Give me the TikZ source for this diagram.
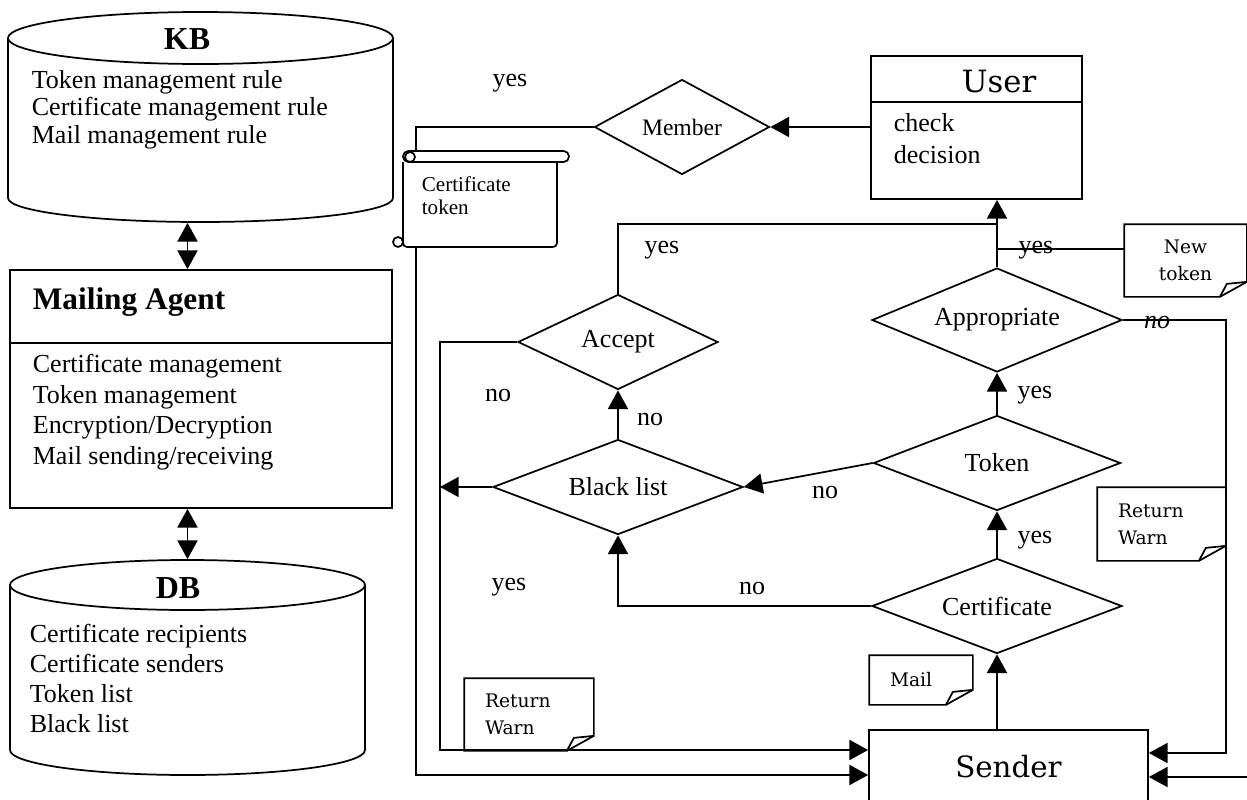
\documentclass[tikz,border=0pt]{standalone}
\usepackage{fontspec}
\setmainfont{Liberation Serif}
\newfontfamily\notefont{DejaVu Serif}
\usetikzlibrary{shapes.geometric,arrows.meta,calc}

\begin{document}
\begin{tikzpicture}[x=0.75pt,y=0.75pt,yscale=-1,xscale=1,line width=1.3pt,
  cylarea/.style={inner sep=0pt},
  box/.style={draw,inner sep=0pt},
  decision/.style={diamond,draw,inner sep=0pt,aspect=2.5,font=\fontsize{19.5}{22}\selectfont},
  title/.style={inner sep=0pt,font=\bfseries\fontsize{24}{26}\selectfont},
  body/.style={inner sep=0pt,anchor=west,align=left,font=\fontsize{19.5}{#1}\selectfont},
  lbl/.style={inner sep=0pt,font=\fontsize{19.5}{22}\selectfont},
  note/.style={inner sep=0pt,inner xsep=15pt,align=left,font=\notefont\fontsize{14}{20.5}\selectfont},
  arr/.style={-{Triangle[length=14pt,width=15pt]}},
  darr/.style={{Triangle[length=14pt,width=15pt]}-{Triangle[length=14pt,width=15pt]}}]
\useasboundingbox (0,0) rectangle (1247,800);
\clip (0,0) rectangle (1247,800);

% KB cylinder
\node[cylarea,minimum width=288.75pt,minimum height=157.5pt] (kb) at (200.5,117) {};
\draw (8,38) -- (8,198) arc[start angle=180,end angle=0,x radius=192.5,y radius=24] -- (393,38);
\draw (200.5,38) ellipse [x radius=192.5,y radius=26];
\node[title] (kbt) at (187,39) {KB};
\node[body=20.6pt] (kbb) at (31,109.5) {Token management rule\\Certificate management rule\\Mail management rule};

% Mailing agent
\node[box,minimum width=286.5pt,minimum height=178.5pt] (agent) at (201,389) {};
\coordinate (adiv) at (0,343);
\draw (agent.west |- adiv) -- (agent.east |- adiv);
\node[title,anchor=west,font=\bfseries\fontsize{23.5}{26}\selectfont] (agentt) at (32,302) {Mailing Agent};
\node[body=23pt] (agentb) at (32,412) {Certificate management\\Token management\\Encryption/Decryption\\Mail sending/receiving};

% DB cylinder
\node[cylarea,minimum width=266.25pt,minimum height=161.25pt] (db) at (187.5,667.5) {};
\draw (10,585) -- (10,750) arc[start angle=180,end angle=0,x radius=177.5,y radius=25] -- (365,585);
\draw (187.5,585) ellipse [x radius=177.5,y radius=25];
\node[title] (dbt) at (178,588) {DB};
\node[body=22.5pt] (dbb) at (29,678) {Certificate recipients\\Certificate senders\\Token list\\Black list};

\draw[darr] (kb.south -| db.north) -- (agent.north -| db.north);
\draw[darr] (agent.south -| db.north) -- (db.north);

% User and Sender
\node[box,minimum width=158.25pt,minimum height=107.25pt] (user) at (976.5,127.5) {};
\coordinate (udiv) at (0,102);
\draw (user.west |- udiv) -- (user.east |- udiv);
\node[inner sep=0pt,font=\notefont\fontsize{23}{26}\selectfont] (usert) at (999,82) {User};
\node[body=24pt] (userb) at (893,139) {check\\decision};
\node[box,anchor=north,minimum width=209.25pt,minimum height=55.5pt,font=\notefont\fontsize{22}{26}\selectfont] (sender) at (1008.5,729) {Sender};

% decisions
\node[decision,minimum width=131.25pt,minimum height=71.25pt,font=\fontsize{17.7}{20}\selectfont] (member) at (682,127) {Member};
\node[decision,minimum width=150pt,minimum height=71.25pt] (accept) at (618,342) {Accept};
\node[decision,minimum width=187.5pt,minimum height=71.25pt] (blist) at (618,487) {Black list};
\node[decision,minimum width=187.5pt,minimum height=78pt] (approp) at (997,320) {Appropriate};
\node[decision,minimum width=185.25pt,minimum height=71.25pt] (token) at (997,463) {Token};
\node[decision,minimum width=187.5pt,minimum height=71.25pt] (cert) at (997,606) {Certificate};

% scroll
\draw[rounded corners=4pt] (403,151) rectangle (569,162);
\draw[rounded corners=3pt] (403,162) -- (403,247) -- (557,247) -- (557,162);
\draw (410,157) circle [radius=5];
\draw (398,242) circle [radius=5];
\node[body=17pt,font=\fontsize{15.8}{17}\selectfont] (scroll) at (421,196) {Certificate\\token};

% notes
\node[note,align=center,text width=60.75pt,minimum height=53.25pt] (newtok) at (1185.5,260.5) {New\\token};
\node[note,text width=65.25pt,minimum height=54pt] (rwR) at (1161.5,524) {Return\\Warn};
\node[note,text width=66pt,minimum height=53.25pt] (rwL) at (529,714.5) {Return\\Warn};
\node[note,text width=46.5pt,minimum height=36pt] (mail) at (921,680) {Mail};
\foreach \n in {newtok,rwR,rwL,mail}{
  \draw (\n.north west) -- (\n.north east) -- ($(\n.south east)+(0,-15)$) -- ($(\n.south east)+(-27,0)$) -- (\n.south west) -- cycle;
  \draw ($(\n.south east)+(-27,0)$) -- ($(\n.south east)+(-20,-13)$) -- ($(\n.south east)+(0,-15)$);
}

% connectors
\coordinate (scrtop) at (416,151);
\coordinate (scrbot) at (416,247);
\coordinate (lowL) at (416,775);
\coordinate (lcor) at (440,750);
\coordinate (jn) at (997,224);
\coordinate (ntk) at (997,249);
\coordinate (rcor) at (1226,753);
\coordinate (rin) at (1260,777);
\draw[arr] (user.west |- member) -- (member.east);
\draw (member.west) -| (scrtop);
\draw[arr] (scrbot) -- (lowL) -- (sender.west |- lowL);
\draw (accept.north) |- (jn);
\draw[arr] (approp.north) -- (approp.north |- user.south);
\draw (ntk) -- (newtok.west |- ntk);
\draw[arr] (accept.west) -| (lcor) -- (sender.west |- lcor);
\draw[arr] (blist.west) -- (blist.west -| lcor);
\draw[arr] (blist.north) -- (accept.south);
\draw[arr] (token.west) -- (blist.east);
\draw[arr] (token.north) -- (approp.south);
\draw[arr] (cert.north) -- (token.south);
\draw[arr] (cert.west) -| (blist.south);
\draw[arr] (cert.south |- sender.north) -- (cert.south);
\draw[arr] (approp.east) -| (rcor) -- (sender.east |- rcor);
\draw[arr] (rin) -- (sender.east |- rin);

% labels
\node[lbl] (l1) at (510,83) {yes};
\node[lbl] (l2) at (662,250) {yes};
\node[lbl] (l3) at (1036,250) {yes};
\node[lbl] (l4) at (1157,322) {\textit{no}};
\node[lbl] (l5) at (498,395) {no};
\node[lbl] (l6) at (650,419) {no};
\node[lbl] (l7) at (1035,395) {yes};
\node[lbl] (l8) at (825,492) {no};
\node[lbl] (l9) at (1035,540) {yes};
\node[lbl] (l10) at (752,588) {no};
\node[lbl] (l11) at (509,587) {yes};
\end{tikzpicture}
\end{document}
